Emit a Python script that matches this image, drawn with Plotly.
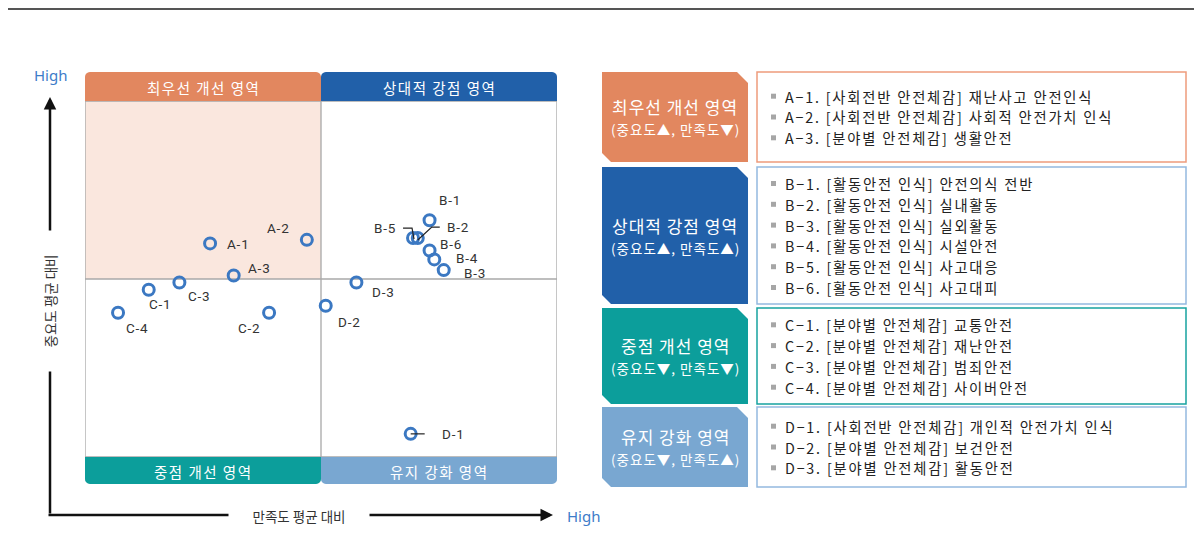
import math
import plotly.graph_objects as go

# page offset of the plot div (browser body margin)
OX, OY = 8, 8
W, H = 1202 - OX, 548 - OY

# ---------------- data ----------------
codes = ["A-1", "A-2", "A-3",
         "B-1", "B-2", "B-3", "B-4", "B-5", "B-6",
         "C-1", "C-2", "C-3", "C-4",
         "D-1", "D-2", "D-3"]
# satisfaction relative to average (x), importance relative to average (y)
satisfaction = [-0.47, -0.06, -0.37,
                0.46, 0.41, 0.52, 0.48, 0.39, 0.46,
                -0.73, -0.22, -0.60, -0.86,
                0.38, 0.02, 0.15]
importance = [0.20, 0.22, 0.02,
              0.33, 0.23, 0.05, 0.11, 0.23, 0.16,
              -0.06, -0.19, -0.02, -0.19,
              -0.87, -0.15, -0.02]
descriptions = ["[사회전반 안전체감] 재난사고 안전인식",
                "[사회전반 안전체감] 사회적 안전가치 인식",
                "[분야별 안전체감] 생활안전",
                "[활동안전 인식] 안전의식 전반",
                "[활동안전 인식] 실내활동",
                "[활동안전 인식] 실외활동",
                "[활동안전 인식] 시설안전",
                "[활동안전 인식] 사고대응",
                "[활동안전 인식] 사고대피",
                "[분야별 안전체감] 교통안전",
                "[분야별 안전체감] 재난안전",
                "[분야별 안전체감] 범죄안전",
                "[분야별 안전체감] 사이버안전",
                "[사회전반 안전체감] 개인적 안전가치 인식",
                "[분야별 안전체감] 보건안전",
                "[분야별 안전체감] 활동안전"]
groups = ["A", "B", "C", "D"]
group_names = ["최우선 개선 영역", "상대적 강점 영역", "중점 개선 영역", "유지 강화 영역"]
group_conditions = ["(중요도▲, 만족도▼)", "(중요도▲, 만족도▲)",
                    "(중요도▼, 만족도▼)", "(중요도▼, 만족도▲)"]
x_axis_title = "만족도 평균 대비"
y_axis_title = "중요도 평균 대비"
high_label = "High"

# ---------------- styles / layout ----------------
FONT = "Noto Sans CJK KR"
LABEL_FONT = "Roboto"
C_ORANGE = "#e2875f"
C_BLUE = "#2160a9"
C_TEAL = "#0c9e9b"
C_LBLUE = "#79a7d1"
C_PEACH = "#fae7de"
C_GRID = "#a8a8a8"
C_MARK = "#3b78c2"
group_fill = [C_ORANGE, C_BLUE, C_TEAL, C_LBLUE]
group_border = ["#ee9c7c", "#94b9df", "#17a3a0", "#94b9df"]

# label offsets in pixels (dx right, dy down)
label_offsets = {"A-1": (28, 1), "A-2": (-28, -12), "A-3": (26, -7),
                 "B-1": (20, -20), "B-2": (40, -11), "B-3": (31, 3),
                 "B-4": (33, -1), "B-5": (-28, -10), "B-6": (21, -7),
                 "C-1": (12, 14), "C-2": (-20, 15), "C-3": (20, 13),
                 "C-4": (19, 15), "D-1": (43, 0), "D-2": (24, 16), "D-3": (27, 9)}
# leader lines (pixel paths relative to the point, y up)
leaders = {"B-5": "M -10,10 L -1,10 L 1,-1",
           "B-2": "M 22,11 L 14,11 L 0,-2",
           "D-1": "M 0,0 L 14,0"}

PL, PR, PT, PB = 85, 557, 101, 457   # plot box in page pixels
rows_y = [(72, 162), (167, 304), (308, 404), (407, 487)]


def px(x):
    return (x - OX) / W


def py(y):
    return 1 - (y - OY) / H


def path_from_pixels(pts, close=True):
    s = "M " + " L ".join(f"{px(x):.5f},{py(y):.5f}" for x, y in pts)
    return s + (" Z" if close else "")


def rounded_rect(x0, y0, x1, y1, r_top, r_bot):
    pts = []

    def arc(cx, cy, r, a0, a1, n=6):
        for i in range(n + 1):
            a = math.radians(a0 + (a1 - a0) * i / n)
            pts.append((cx + r * math.cos(a), cy + r * math.sin(a)))
    if r_top:
        arc(x0 + r_top, y0 + r_top, r_top, 180, 270)
        arc(x1 - r_top, y0 + r_top, r_top, 270, 360)
    else:
        pts.extend([(x0, y0), (x1, y0)])
    if r_bot:
        arc(x1 - r_bot, y1 - r_bot, r_bot, 0, 90)
        arc(x0 + r_bot, y1 - r_bot, r_bot, 90, 180)
    else:
        pts.extend([(x1, y1), (x0, y1)])
    return path_from_pixels(pts)


def spaced(text, sp):
    return f"<span style='letter-spacing:{sp}px'>{text}</span>"


fig = go.Figure()
fig.add_trace(go.Scatter(
    x=satisfaction, y=importance, mode="markers",
    marker=dict(symbol="circle-open", size=11, color=C_MARK, line=dict(width=3, color=C_MARK)),
    cliponaxis=False, hoverinfo="text", text=codes, showlegend=False))

shapes = []
annotations = []


def note(x, y, text, size, color="#333333", xanchor="center", yanchor="middle",
         family=FONT, **kw):
    d = dict(xref="paper", yref="paper", x=px(x), y=py(y), text=text, showarrow=False,
             xanchor=xanchor, yanchor=yanchor, font=dict(family=family, size=size, color=color))
    d.update(kw)
    annotations.append(d)


# top rule
shapes.append(dict(type="rect", xref="paper", yref="paper", x0=px(OX), x1=px(1202),
                   y0=py(10), y1=py(7), fillcolor="#555555", line=dict(width=0), layer="below"))

# quadrant fill (high importance, low satisfaction)
shapes.append(dict(type="rect", xref="x", yref="y", x0=-1, x1=0, y0=0, y1=1,
                   fillcolor=C_PEACH, line=dict(width=0), layer="below"))
# quadrant lines & border
shapes.append(dict(type="line", xref="x", yref="y", x0=0, x1=0, y0=-1, y1=1,
                   line=dict(color=C_GRID, width=1.3), layer="below"))
shapes.append(dict(type="line", xref="x", yref="y", x0=-1, x1=1, y0=0, y1=0,
                   line=dict(color=C_GRID, width=1.3), layer="below"))
shapes.append(dict(type="rect", xref="x", yref="y", x0=-1, x1=1, y0=-1, y1=1,
                   line=dict(color=C_GRID, width=1.3), fillcolor="rgba(0,0,0,0)", layer="below"))

# quadrant headers
mid = (PL + PR) / 2
hdr = [(PL, mid, 72, PT, 5, 0, C_ORANGE, group_names[0]),
       (mid, PR, 72, PT, 5, 0, C_BLUE, group_names[1]),
       (PL, mid, PB, 484, 0, 5, C_TEAL, group_names[2]),
       (mid, PR, PB, 484, 0, 5, C_LBLUE, group_names[3])]
for x0, x1, y0, y1, rt, rb, col, name in hdr:
    shapes.append(dict(type="path", xref="paper", yref="paper",
                       path=rounded_rect(x0, y0, x1, y1, rt, rb),
                       fillcolor=col, line=dict(width=0), layer="below"))
    note((x0 + x1) / 2, (y0 + y1) / 2 + 1, spaced(name, 1.5), 14.5, color="white")

# leader lines
for code, path in leaders.items():
    i = codes.index(code)
    shapes.append(dict(type="path", xref="x", yref="y", xsizemode="pixel", ysizemode="pixel",
                       xanchor=satisfaction[i], yanchor=importance[i], path=path,
                       line=dict(color="#222222", width=1.2), layer="above"))

# point labels
for i, code in enumerate(codes):
    dx, dy = label_offsets[code]
    annotations.append(dict(xref="x", yref="y", x=satisfaction[i], y=importance[i],
                            xshift=dx, yshift=-dy, text=spaced(code, 0.8), showarrow=False,
                            xanchor="center", yanchor="middle",
                            font=dict(family=LABEL_FONT, size=13.5, color="#333333")))

# axis arrows
annotations.append(dict(xref="paper", yref="paper", x=px(50), y=py(97), ax=0, ay=418,
                        text="", showarrow=True, arrowhead=2, arrowsize=1.0, arrowwidth=2.5,
                        arrowcolor="#111111", standoff=0, startstandoff=0))
annotations.append(dict(xref="paper", yref="paper", x=px(553), y=py(515), ax=-506, ay=0,
                        text="", showarrow=True, arrowhead=2, arrowsize=1.0, arrowwidth=2.5,
                        arrowcolor="#111111", standoff=0, startstandoff=0))
note(299, 516, x_axis_title, 13.5, bgcolor="white", width=138, height=18)
note(50, 301, y_axis_title, 13.5, bgcolor="white", width=138, height=18, textangle=-90)
note(50, 75, high_label, 15, color="#3d7cc9", family="Noto Sans")
note(565, 516, high_label, 15, color="#3d7cc9", xanchor="left", family="Noto Sans")

# right panel
LX0, LX1, RX0, RX1 = 602, 748, 757, 1186
line_gap = 20.8
for g, (y0, y1) in enumerate(rows_y):
    c1, c2 = 11, 9
    pts = [(LX0, y0), (LX1 - c1, y0), (LX1, y0 + c1), (LX1, y1), (LX0 + c2, y1), (LX0, y1 - c2)]
    shapes.append(dict(type="path", xref="paper", yref="paper", path=path_from_pixels(pts),
                       fillcolor=group_fill[g], line=dict(width=0), layer="below"))
    shapes.append(dict(type="rect", xref="paper", yref="paper", x0=px(RX0), x1=px(RX1),
                       y0=py(y1), y1=py(y0), fillcolor="white",
                       line=dict(color=group_border[g], width=1.5), layer="below"))
    cy = (y0 + y1) / 2
    note((LX0 + LX1) / 2, cy - 10.5, spaced(group_names[g], 1), 17, color="white")
    note((LX0 + LX1) / 2, cy + 12, spaced(group_conditions[g], 1), 13.5, color="white")
    idx = [i for i, c in enumerate(codes) if c.startswith(groups[g])]
    n = len(idx)
    for k, i in enumerate(idx):
        ly = cy + (k - (n - 1) / 2) * line_gap
        shapes.append(dict(type="rect", xref="paper", yref="paper", x0=px(771), x1=px(776),
                           y0=py(ly + 2.5), y1=py(ly - 2.5), fillcolor="#a6a6a6",
                           line=dict(width=0), layer="above"))
        note(783, ly, spaced(codes[i].replace("-", "−") + ". " + descriptions[i], 1.8), 14.3,
             color="#222222", xanchor="left")

fig.update_layout(
    width=W, height=H, autosize=False,
    margin=dict(l=0, r=0, t=0, b=0),
    paper_bgcolor="white", plot_bgcolor="rgba(0,0,0,0)",
    xaxis=dict(domain=[px(PL), px(PR)], range=[-1, 1], showgrid=False, zeroline=False,
               showticklabels=False, ticks="", showline=False, fixedrange=True),
    yaxis=dict(domain=[py(PB), py(PT)], range=[-1, 1], showgrid=False, zeroline=False,
               showticklabels=False, ticks="", showline=False, fixedrange=True),
    shapes=shapes, annotations=annotations, showlegend=False,
    font=dict(family=FONT),
)

fig.write_html("out.html")
